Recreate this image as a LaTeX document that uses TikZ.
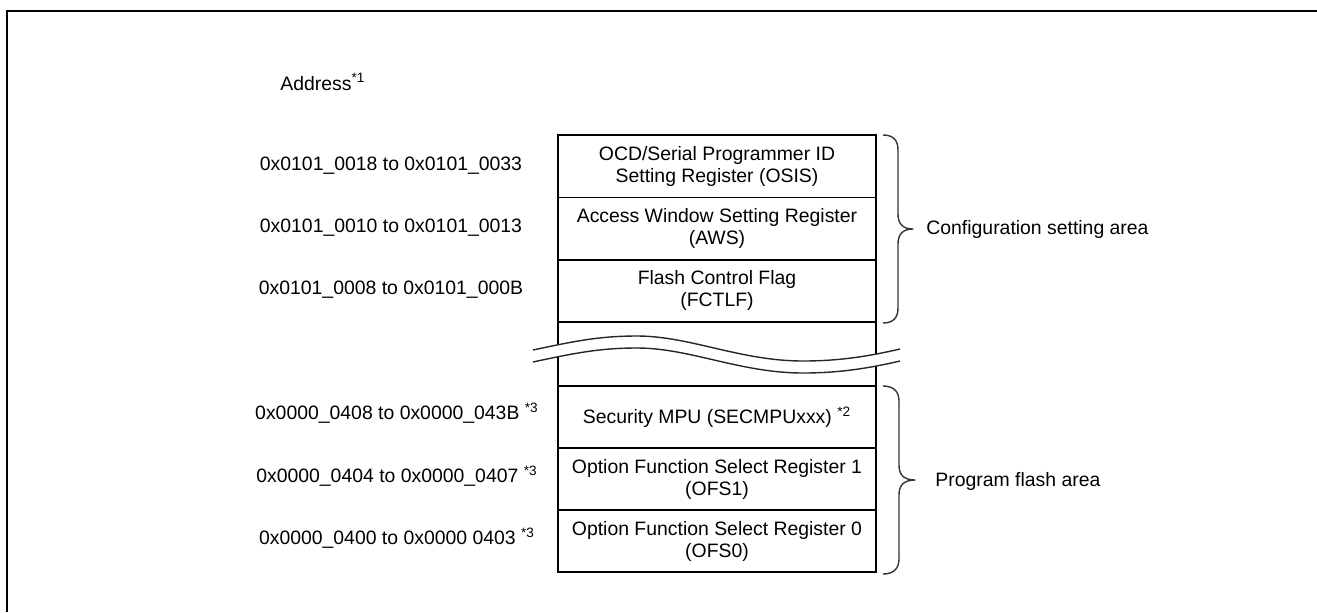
\documentclass[tikz,border=0pt]{standalone}
\usepackage{fontspec}
\setmainfont{Liberation Sans}
\begin{document}
\begin{tikzpicture}[x=0.5pt,y=-0.5pt,
  every node/.style={font=\fontsize{9.7}{11}\selectfont, inner sep=0pt},
  regbox/.style={draw, line width=0.8pt, minimum width=159pt, minimum height=31.2pt, align=center},
  gapbox/.style={draw, line width=0.8pt, minimum width=159pt, minimum height=32pt},
  addr/.style={anchor=center},
  arealabel/.style={anchor=west},
  areabrace/.style={draw=black!80, line width=0.7pt, line join=round},
  breakline/.style={draw=black!85, line width=0.7pt}
]
\useasboundingbox (0,0) rectangle (1317,612);

% page frame
\draw[line width=1.3pt] (7,612) -- (7,11) -- (1317,11);

% heading
\node[anchor=west] (head) at (280,82) {Address\textsuperscript{*1}};

% register map
\node[regbox] (osis)  at (717,166.2) {OCD/Serial Programmer ID\\Setting Register (OSIS)};
\node[regbox] (aws)   at (717,228.5) {Access Window Setting Register\\(AWS)};
\node[regbox] (fctlf) at (717,290.8) {Flash Control Flag\\(FCTLF)};
\node[gapbox] (gap)   at (717,354)   {};
\node[regbox] (mpu)   at (717,417)   {Security MPU (SECMPUxxx) \textsuperscript{*2}};
\node[regbox] (ofs1)  at (717,479)   {Option Function Select Register 1\\(OFS1)};
\node[regbox] (ofs0)  at (717,541)   {Option Function Select Register 0\\(OFS0)};

% address ranges
\node[addr] (a1) at (391,166) {0x0101\_0018 to 0x0101\_0033};
\node[addr] (a2) at (391,228) {0x0101\_0010 to 0x0101\_0013};
\node[addr] (a3) at (391,290) {0x0101\_0008 to 0x0101\_000B};
\node[addr] (a4) at (397,413) {0x0000\_0408 to 0x0000\_043B \textsuperscript{*3}};
\node[addr] (a5) at (397,476) {0x0000\_0404 to 0x0000\_0407 \textsuperscript{*3}};
\node[addr] (a6) at (397,538) {0x0000\_0400 to 0x0000 0403 \textsuperscript{*3}};

% wavy break across the column
\fill[white] (533,350) .. controls (575,341) and (600,336) .. (637,336)
  .. controls (690,336) and (740,361) .. (803,361)
  .. controls (840,361) and (870,356) .. (900,349)
  -- (900,361) .. controls (870,368) and (840,373) .. (803,373)
  .. controls (740,373) and (690,348) .. (637,348)
  .. controls (600,348) and (575,353) .. (533,362) -- cycle;
\draw[breakline] (533,350) .. controls (575,341) and (600,336) .. (637,336)
  .. controls (690,336) and (740,361) .. (803,361)
  .. controls (840,361) and (870,356) .. (900,349);
\draw[breakline] (533,362) .. controls (575,353) and (600,348) .. (637,348)
  .. controls (690,348) and (740,373) .. (803,373)
  .. controls (840,373) and (870,368) .. (900,361);

% area braces
\draw[areabrace] (883,135) .. controls (893,135) and (898,140) .. (898,150)
  -- (898,214) .. controls (898,224) and (903,229) .. (913,229)
  .. controls (903,229) and (898,234) .. (898,244)
  -- (898,308) .. controls (898,318) and (893,323) .. (883,323);
\draw[areabrace] (883,386) .. controls (893,386) and (899,391) .. (899,401)
  -- (899,465) .. controls (899,475) and (904,480) .. (915,480)
  .. controls (904,480) and (899,485) .. (899,495)
  -- (899,559) .. controls (899,569) and (893,574) .. (883,574);

% area labels
\node[arealabel] (cfg) at (926,229) {Configuration setting area};
\node[arealabel] (pfa) at (935,481) {Program flash area};
\end{tikzpicture}
\end{document}
